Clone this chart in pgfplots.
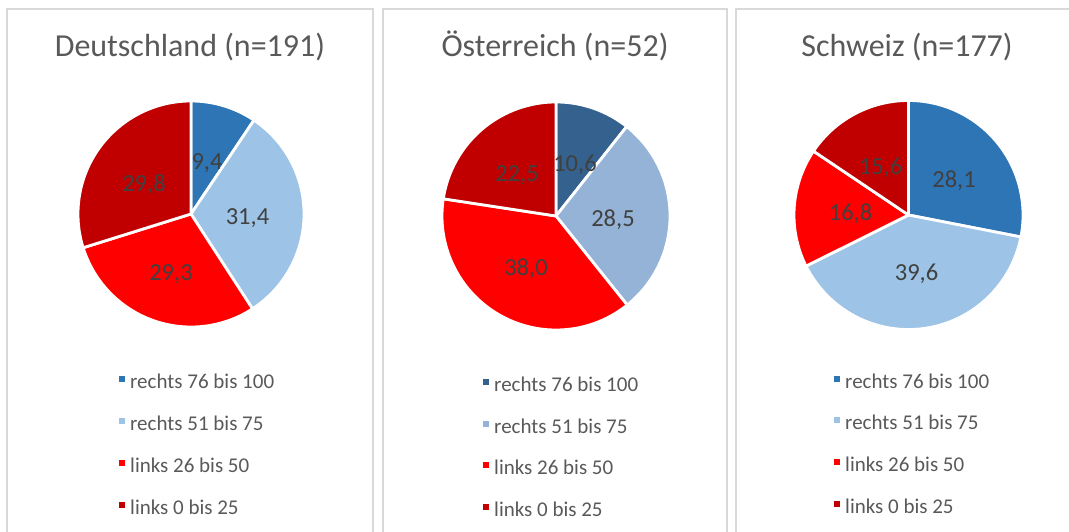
\documentclass[border=0pt]{standalone}
\usepackage{fontspec}
\setmainfont{Carlito}
\usepackage{pgfplots}
\pgfplotsset{compat=1.18}

\definecolor{deBlue}{HTML}{2E75B6}
\definecolor{deLight}{HTML}{9DC3E6}
\definecolor{atBlue}{HTML}{35618F}
\definecolor{atLight}{HTML}{95B3D7}
\definecolor{pRed}{HTML}{FF0000}
\definecolor{pDark}{HTML}{C00000}
\definecolor{titlegray}{HTML}{595959}
\definecolor{labelgray}{HTML}{404040}
\definecolor{framegray}{HTML}{D9D9D9}

% one slice: #1 cx, #2 cy, #3 value, #4 total, #5 colour; uses \cum (running sum) and \R (radius)
\newcommand\pieslice[5]{%
  \pgfmathsetmacro\angA{90-(\cum/#4)*360}%
  \pgfmathsetmacro\angB{90-((\cum+#3)/#4)*360}%
  \pgfmathsetmacro\cum{\cum+#3}%
  \edef\doslice{\noexpand\addplot[fill=#5, draw=white, line width=2.8pt, line join=round,
      domain=\angB:\angA, samples=90] ({#1+\R*cos(x)},{#2+\R*sin(x)}) -- (axis cs:#1,#2) -- cycle;}%
  \doslice
}

\pgfplotsset{
  pieaxis/.style={
    at={(0pt,0pt)}, anchor=south west,
    scale only axis, width=1069pt, height=531pt,
    xmin=0, xmax=1069, ymin=0, ymax=531,
    hide axis, clip=false,
    legend entries={rechts 76 bis 100, rechts 51 bis 75, links 26 bis 50, links 0 bis 25},
    legend cell align=left,
    legend image code/.code={\fill[##1, draw=none] (0pt,2pt) rectangle (6pt,8pt);},
    legend style={draw=none, fill=none, anchor=north west,
      font=\fontsize{21}{25}\selectfont, text=titlegray,
      nodes={inner sep=0pt, text height=14pt, text depth=5pt},
      row sep=22.7pt, column sep=5pt},
  },
}
\tikzset{
  lab/.style={anchor=base, text=labelgray, font=\fontsize{24.5}{28}\selectfont},
  ttl/.style={anchor=base, text=titlegray, font=\fontsize{32}{37}\selectfont},
}

\begin{document}
\begin{tikzpicture}
% panel frames
\draw[framegray, line width=1.6pt] (7pt,-10pt) -- (7pt,522pt) -- (373pt,522pt) -- (373pt,-10pt);
\draw[framegray, line width=1.6pt] (383pt,-10pt) -- (383pt,522pt) -- (727pt,522pt) -- (727pt,-10pt);
\draw[framegray, line width=1.6pt] (736pt,-10pt) -- (736pt,522pt) -- (1075pt,522pt) -- (1075pt,-10pt);

% Deutschland
\begin{axis}[pieaxis, legend style={at={(116/1069,158.3/531)}}]
  \def\R{113}\def\cum{0}
  \pieslice{191}{317}{9.4}{99.9}{deBlue}
  \pieslice{191}{317}{31.4}{99.9}{deLight}
  \pieslice{191}{317}{29.3}{99.9}{pRed}
  \pieslice{191}{317}{29.8}{99.9}{pDark}
  \node[lab] at (axis cs:207,361) {9,4};
  \node[lab] at (axis cs:247.5,306) {31,4};
  \node[lab] at (axis cs:171,251) {29,3};
  \node[lab] at (axis cs:144,339) {29,8};
  \node[ttl] at (axis cs:190,474) {Deutschland (n=191)};
\end{axis}

% Oesterreich
\begin{axis}[pieaxis, legend style={at={(480/1069,155.7/531)}}]
  \def\R{114}\def\cum{0}
  \pieslice{556}{315}{10.6}{99.6}{atBlue}
  \pieslice{556}{315}{28.5}{99.6}{atLight}
  \pieslice{556}{315}{38.0}{99.6}{pRed}
  \pieslice{556}{315}{22.5}{99.6}{pDark}
  \node[lab] at (axis cs:575,359) {10,6};
  \node[lab] at (axis cs:613,304) {28,5};
  \node[lab] at (axis cs:526,255) {38,0};
  \node[lab] at (axis cs:517,349) {22,5};
  \node[ttl] at (axis cs:555,474) {Österreich (n=52)};
\end{axis}

% Schweiz
\begin{axis}[pieaxis, legend style={at={(831/1069,159/531)}}]
  \def\R{114.5}\def\cum{0}
  \pieslice{908.5}{316}{28.1}{100.1}{deBlue}
  \pieslice{908.5}{316}{39.6}{100.1}{deLight}
  \pieslice{908.5}{316}{16.8}{100.1}{pRed}
  \pieslice{908.5}{316}{15.6}{100.1}{pDark}
  \node[lab] at (axis cs:954,343) {28,1};
  \node[lab] at (axis cs:916.5,250) {39,6};
  \node[lab] at (axis cs:850.5,310) {16,8};
  \node[lab] at (axis cs:880.5,356) {15,6};
  \node[ttl] at (axis cs:907,474) {Schweiz (n=177)};
\end{axis}

\pgfresetboundingbox
\path[use as bounding box] (0pt,0pt) rectangle (1069pt,531pt);
\end{tikzpicture}
\end{document}
